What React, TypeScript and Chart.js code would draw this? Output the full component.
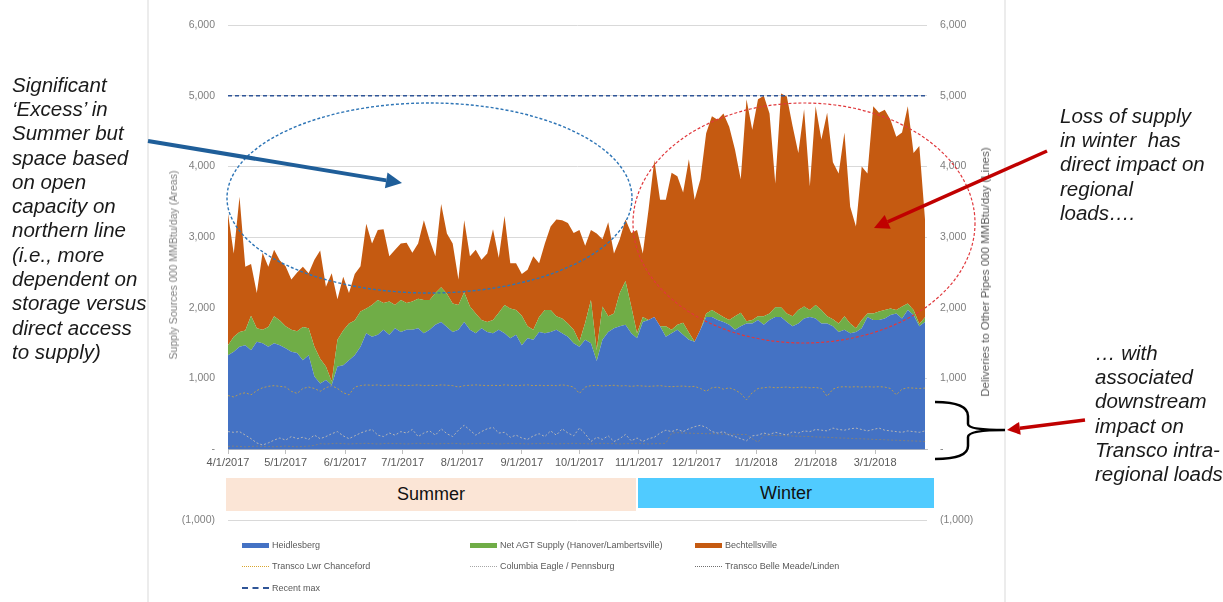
import React, { useEffect, useRef } from "react";
import { Chart, registerables } from "chart.js";

Chart.register(...registerables);

// one sample every 3 days, starting 4/1/2017 (day 0) through 3/31/2018 (day 364)
const DAY_STEP = 3;
const FIRST_DAY = 0;
const LAST_DAY = 364;

const monthTickDays = [0, 30, 61, 91, 122, 153, 183, 214, 244, 275, 306, 337];
const monthTickLabels = [
  "4/1/2017", "5/1/2017", "6/1/2017", "7/1/2017", "8/1/2017", "9/1/2017",
  "10/1/2017", "11/1/2017", "12/1/2017", "1/1/2018", "2/1/2018", "3/1/2018",
];

// Areas (000 MMBtu/day), stacked
const heidlesberg = [
  1330, 1380, 1450, 1470, 1400, 1520, 1500, 1450, 1500, 1470,
  1430, 1380, 1360, 1260, 1330, 1030, 930, 980, 910, 1170,
  1190, 1260, 1330, 1450, 1640, 1590, 1620, 1690, 1620, 1710,
  1660, 1690, 1690, 1710, 1640, 1690, 1760, 1800, 1730, 1660,
  1690, 1800, 1690, 1640, 1710, 1660, 1640, 1690, 1640, 1570,
  1620, 1470, 1570, 1550, 1660, 1640, 1660, 1690, 1640, 1590,
  1500, 1450, 1550, 1500, 1250, 1550, 1660, 1710, 1740, 1760,
  1640, 1570, 1800, 1830, 1870, 1740, 1590, 1640, 1690, 1620,
  1550, 1520, 1690, 1870, 1870, 1830, 1800, 1760, 1690, 1740,
  1780, 1780, 1830, 1760, 1830, 1870, 1870, 1800, 1740, 1780,
  1850, 1870, 1850, 1780, 1780, 1740, 1660, 1690, 1640, 1660,
  1710, 1870, 1830, 1830, 1850, 1900, 1920, 1850, 1970, 1900,
  1740, 1800,
];
const netAgtSupply = [
  140, 210, 210, 210, 490, 190, 190, 280, 380, 350,
  310, 310, 310, 470, 380, 420, 350, 190, 50, 380,
  490, 520, 490, 500, 350, 450, 490, 380, 470, 330,
  450, 380, 400, 420, 470, 420, 450, 490, 470, 400,
  350, 420, 330, 280, 120, 140, 190, 240, 400, 420,
  350, 420, 170, 140, 210, 330, 310, 190, 210, 190,
  190, 70, 240, 610, 150, 470, 220, 210, 470, 620,
  380, 70, 70, 0, 0, 0, 150, 50, 70, 170,
  100, 0, 0, 50, 100, 90, 70, 70, 190, 190,
  30, 50, 50, 120, 90, 140, 140, 120, 140, 190,
  170, 100, 190, 190, 100, 100, 120, 190, 140, 50,
  120, 50, 90, 120, 120, 90, 50, 170, 90, 70,
  30, 70,
];
const bechtellsville = [
  1860, 1180, 1910, 900, 730, 500, 1090, 850, 940, 850,
  850, 710, 830, 850, 780, 1230, 1530, 1130, 1530, 570,
  760, 430, 660, 640, 1200, 870, 990, 1040, 640, 780,
  800, 850, 690, 780, 1130, 850, 520, 1180, 850, 850,
  360, 1020, 710, 900, 850, 970, 1280, 780, 1260, 640,
  660, 590, 800, 1040, 760, 940, 1180, 1370, 1390, 1420,
  1370, 1580, 1090, 990, 1650, 950, 1330, 850, 760, 870,
  1040, 1460, 900, 1560, 2220, 1790, 1790, 2220, 2100, 1840,
  2450, 2010, 2130, 2550, 2740, 2740, 2880, 2730, 2360, 1890,
  3140, 2690, 3070, 3120, 2830, 1750, 3020, 3070, 2690, 2220,
  2790, 1750, 2810, 2410, 2880, 2220, 2120, 2600, 1650, 1440,
  2170, 1980, 2930, 2810, 2830, 2670, 2450, 2460, 2790, 2220,
  2520, 1370,
];

// Lines (000 MMBtu/day)
const lwrChanceford = [
  760, 740, 780, 800, 770, 830, 870, 890, 900, 890,
  880, 820, 790, 860, 880, 860, 820, 870, 900, 860,
  800, 770, 880, 900, 910, 905, 910, 900, 905, 910,
  905, 900, 905, 910, 900, 905, 900, 910, 905, 900,
  880, 900, 905, 910, 905, 900, 905, 900, 910, 905,
  900, 905, 910, 900, 905, 900, 905, 900, 910, 900,
  880, 790, 880, 900, 905, 895, 900, 905, 895, 900,
  890, 900, 895, 890, 895, 900, 890, 885, 890, 895,
  885, 890, 860, 820, 870, 880, 850, 870, 840, 790,
  700, 800, 860, 870, 880, 870, 875, 880, 870, 875,
  880, 870, 875, 860, 750, 850, 880, 885, 880, 885,
  880, 885, 880, 885, 880, 860, 770, 850, 870, 865,
  860, 865,
];
const columbiaEagle = [
  250, 240, 250, 200, 150, 90, 60, 90, 130, 160,
  130, 180, 150, 170, 140, 200, 150, 180, 220, 250,
  190, 150, 190, 230, 260, 280, 200, 180, 230, 200,
  250, 230, 280, 180, 230, 260, 200, 290, 220, 180,
  270, 340, 270, 200, 250, 290, 310, 230, 240, 170,
  200, 160, 140, 190, 220, 180, 260, 200, 290, 230,
  190, 300, 220, 110, 170, 140, 190, 110, 150, 210,
  120, 160, 110, 150, 170, 230, 270, 250, 280, 250,
  290, 320, 340, 310, 250, 230, 250, 200, 180, 150,
  120, 190, 200, 230, 210, 240, 220, 200, 250, 230,
  260, 250, 280, 270, 260, 300, 280, 270, 290, 300,
  280, 260, 280, 300, 270, 260, 250, 240, 260, 250,
  240, 260,
];
const belleMeade = [
  40, 45, 40, 35, 40, 45, 40, 40, 35, 40, 45, 40, 35, 40, 45, 55,
  80, 75, 80, 85, 80, 75, 80, 80, 85, 80,
  75, 80, 85, 80, 80, 75, 80, 85, 80, 80,
  75, 80, 80, 85, 80, 75, 80, 80, 85, 80,
  80, 75, 80, 85, 80, 80, 75, 80, 80, 85,
  80, 75, 80, 80, 85, 80, 80, 75, 80, 85,
  80, 80, 75, 80, 80, 85, 80, 75, 80, 80,
  85,
  230, 235, 230, 228, 225, 225, 220, 222, 218, 215,
  215, 212, 210, 208, 150, 100, 200, 200, 195, 195,
  190, 188, 185, 182, 180, 175, 172, 170, 165, 160,
  158, 155, 150, 148, 145, 140, 138, 135, 130, 128,
  125, 120, 118, 115, 110,
];
const recentMaxDays = [FIRST_DAY, LAST_DAY];
const recentMax = [5000, 5000];

const yTickMin = -1000;
const yTickMax = 6000;
const yTickStep = 1000;

const COLORS = {
  heid: "#4472C4",
  agt: "#70AD47",
  bech: "#C55A11",
  lwr: "#B39A55",
  col: "#B4B4B4",
  belle: "#7F7F7F",
  max: "#2F5597",
};

const FONT = "'Liberation Sans', Arial, sans-serif";

const fmtTick = (v: number) => {
  if (v === 0) return "-";
  const s = Math.abs(v).toLocaleString("en-US");
  return v < 0 ? `(${s})` : s;
};

type LegendItem = { label: string; kind: "area" | "dot" | "dash"; color: string; col: number; row: number };
const legendItems: LegendItem[] = [
  { label: "Heidlesberg", kind: "area", color: COLORS.heid, col: 0, row: 0 },
  { label: "Net AGT Supply (Hanover/Lambertsville)", kind: "area", color: COLORS.agt, col: 1, row: 0 },
  { label: "Bechtellsville", kind: "area", color: COLORS.bech, col: 2, row: 0 },
  { label: "Transco Lwr Chanceford", kind: "dot", color: "#D9A52E", col: 0, row: 1 },
  { label: "Columbia Eagle / Pennsburg", kind: "dot", color: "#A6A6A6", col: 1, row: 1 },
  { label: "Transco Belle Meade/Linden", kind: "dot", color: "#6F6F6F", col: 2, row: 1 },
  { label: "Recent max", kind: "dash", color: COLORS.max, col: 0, row: 2 },
];
const legendColX = [242, 470, 695];
const legendRowY = [545, 566, 588];

function Arrow(p: { x1: number; y1: number; x2: number; y2: number; color: string; width: number; head: number }) {
  const ang = Math.atan2(p.y2 - p.y1, p.x2 - p.x1);
  const bx = p.x2 - p.head * Math.cos(ang);
  const by = p.y2 - p.head * Math.sin(ang);
  const hw = p.head * 0.5;
  const px = -Math.sin(ang) * hw;
  const py = Math.cos(ang) * hw;
  return (
    <g>
      <line x1={p.x1} y1={p.y1} x2={bx} y2={by} stroke={p.color} strokeWidth={p.width} />
      <polygon points={`${p.x2},${p.y2} ${bx + px},${by + py} ${bx - px},${by - py}`} fill={p.color} />
    </g>
  );
}

const noteStyle: React.CSSProperties = {
  position: "absolute",
  fontFamily: FONT,
  fontStyle: "italic",
  fontSize: 20.5,
  lineHeight: "24.3px",
  color: "#1a1a1a",
  whiteSpace: "pre",
};

export default function App() {
  const ref = useRef<HTMLCanvasElement>(null);

  useEffect(() => {
    const pts = (arr: number[]) => arr.map((v, i) => ({ x: FIRST_DAY + i * DAY_STEP, y: v }));
    const lineDs = (label: string, arr: number[], color: string) => ({
      label,
      data: pts(arr),
      yAxisID: "y2",
      borderColor: color,
      borderWidth: 1,
      borderDash: [2, 2],
      pointRadius: 0,
      fill: false,
      tension: 0,
      order: 0,
    });
    // all areas share one "order" so that stacking follows dataset index
    const areaDs = (label: string, arr: number[], color: string, fill: string) => ({
      label,
      data: pts(arr),
      yAxisID: "y",
      backgroundColor: color,
      borderColor: "rgba(0,0,0,0)",
      borderWidth: 0,
      pointRadius: 0,
      fill,
      tension: 0,
      order: 1,
    });
    const tickFont = { family: FONT, size: 10.5 };
    const chart = new Chart(ref.current!, {
      type: "line",
      data: {
        datasets: [
          areaDs("Heidlesberg", heidlesberg, COLORS.heid, "origin"),
          areaDs("Net AGT Supply (Hanover/Lambertsville)", netAgtSupply, COLORS.agt, "-1"),
          areaDs("Bechtellsville", bechtellsville, COLORS.bech, "-1"),
          lineDs("Transco Lwr Chanceford", lwrChanceford, COLORS.lwr),
          lineDs("Columbia Eagle / Pennsburg", columbiaEagle, COLORS.col),
          lineDs("Transco Belle Meade/Linden", belleMeade, COLORS.belle),
          {
            label: "Recent max",
            data: recentMax.map((v, i) => ({ x: recentMaxDays[i], y: v })),
            yAxisID: "y2",
            borderColor: COLORS.max,
            borderWidth: 1.6,
            borderDash: [4, 3],
            pointRadius: 0,
            fill: false,
            order: 0,
          },
        ] as any,
      },
      options: {
        animation: false,
        responsive: false,
        maintainAspectRatio: false,
        layout: { padding: { left: 148, right: 218, top: 25, bottom: 82 } },
        plugins: { legend: { display: false }, tooltip: { enabled: false } },
        elements: { line: { borderJoinStyle: "round" } },
        scales: {
          x: {
            type: "linear",
            min: FIRST_DAY,
            max: LAST_DAY,
            position: { y: 0 } as any,
            grid: { display: true, drawOnChartArea: false, drawTicks: true, tickLength: 4, color: "#BFBFBF" },
            border: { display: true, color: "#BFBFBF" },
            afterBuildTicks: (s: any) => {
              s.ticks = monthTickDays.map((v) => ({ value: v }));
            },
            ticks: {
              autoSkip: false,
              maxRotation: 0,
              padding: 3,
              color: "#595959",
              font: { family: FONT, size: 11 },
              callback: (_v: any, i: number) => monthTickLabels[i],
            },
          },
          y: {
            type: "linear",
            position: "left",
            stacked: true,
            min: yTickMin,
            max: yTickMax,
            afterFit: (s: any) => {
              s.width = 80;
            },
            grid: { color: "#D9D9D9", drawTicks: false },
            border: { display: false },
            ticks: { stepSize: yTickStep, padding: 13, color: "#7F7F7F", font: tickFont, callback: (v: any) => fmtTick(Number(v)) },
          },
          y2: {
            type: "linear",
            position: "right",
            min: yTickMin,
            max: yTickMax,
            afterFit: (s: any) => {
              s.width = 78;
            },
            grid: { drawOnChartArea: false, drawTicks: false },
            border: { display: false },
            ticks: { stepSize: yTickStep, padding: 13, color: "#7F7F7F", font: tickFont, callback: (v: any) => fmtTick(Number(v)) },
          },
        },
      } as any,
    });
    return () => chart.destroy();
  }, []);

  return (
    <div style={{ position: "fixed", left: 0, top: 0, width: 1223, height: 602, background: "#fff", overflow: "hidden" }}>
      <canvas ref={ref} width={1223} height={602} style={{ position: "absolute", left: 0, top: 0, width: 1223, height: 602 }} />

      {/* season bands */}
      <div style={{ position: "absolute", left: 226, top: 478, width: 410, height: 33, background: "#FBE5D6", display: "flex", alignItems: "center", justifyContent: "center", fontFamily: FONT, fontSize: 18, color: "#111" }}>Summer</div>
      <div style={{ position: "absolute", left: 638, top: 478, width: 296, height: 30, background: "#50CBFF", display: "flex", alignItems: "center", justifyContent: "center", fontFamily: FONT, fontSize: 18, color: "#111" }}>Winter</div>

      {/* axis titles */}
      <div style={{ position: "absolute", left: 172.7, top: 265, transform: "translate(-50%, -50%) rotate(-90deg)", whiteSpace: "nowrap", fontFamily: FONT, fontSize: 10.6, color: "#808080" }}>
        Supply Sources 000 MMBtu/day (Areas)
      </div>
      <div style={{ position: "absolute", left: 985, top: 272, transform: "translate(-50%, -50%) rotate(-90deg)", whiteSpace: "nowrap", fontFamily: FONT, fontSize: 11.5, color: "#595959" }}>
        Deliveries to Other Pipes 000 MMBtu/day (Lines)
      </div>

      {/* legend */}
      {legendItems.map((it) => {
        const x = legendColX[it.col];
        const y = legendRowY[it.row];
        const sw: React.CSSProperties =
          it.kind === "area"
            ? { position: "absolute", left: x, top: y - 2.5, width: 27, height: 5, background: it.color }
            : it.kind === "dot"
            ? { position: "absolute", left: x, top: y - 0.5, width: 27, height: 0, borderTop: `1px dotted ${it.color}` }
            : { position: "absolute", left: x, top: y - 1, width: 27, height: 0, borderTop: `2px dashed ${it.color}` };
        return (
          <React.Fragment key={it.label}>
            <div style={sw} />
            <div style={{ position: "absolute", left: x + 30, top: y - 6, fontFamily: FONT, fontSize: 9, lineHeight: "12px", color: "#595959", whiteSpace: "nowrap" }}>{it.label}</div>
          </React.Fragment>
        );
      })}

      {/* shapes */}
      <svg width={1223} height={602} style={{ position: "absolute", left: 0, top: 0, pointerEvents: "none" }}>
        <line x1={148} y1={0} x2={148} y2={602} stroke="#D9D9D9" strokeWidth={1} />
        <line x1={1005} y1={0} x2={1005} y2={602} stroke="#D9D9D9" strokeWidth={1} />
        <ellipse cx={429.5} cy={198} rx={202.5} ry={95} fill="none" stroke="#2E75B6" strokeWidth={1.4} strokeDasharray="3 2" />
        <ellipse cx={804} cy={223} rx={171} ry={120} fill="none" stroke="#E0383C" strokeWidth={1.2} strokeDasharray="3 2" />
        <Arrow x1={148} y1={141} x2={402} y2={183} color="#1F5E99" width={4} head={16} />
        <Arrow x1={1047} y1={151} x2={874} y2={228} color="#C00000" width={3.5} head={15} />
        <Arrow x1={1085} y1={420} x2={1007} y2={430} color="#C00000" width={3.5} head={13} />
        <path d="M 935 402 Q 968 402 968 416 L 968 424 Q 968 430 1005 430 Q 968 430 968 437 L 968 446 Q 968 459 935 459" fill="none" stroke="#000" strokeWidth={2.5} />
      </svg>

      {/* notes */}
      <div style={{ ...noteStyle, left: 12, top: 72.7 }}>
        {"Significant\n‘Excess’ in\nSummer but\nspace based\non open\ncapacity on\nnorthern line\n(i.e., more\ndependent on\nstorage versus\ndirect access\nto supply)"}
      </div>
      <div style={{ ...noteStyle, left: 1060, top: 103.7 }}>
        {"Loss of supply\nin winter  has\ndirect impact on\nregional\nloads…."}
      </div>
      <div style={{ ...noteStyle, left: 1095, top: 340.7 }}>
        {"… with\nassociated\ndownstream\nimpact on\nTransco intra-\nregional loads"}
      </div>
    </div>
  );
}
